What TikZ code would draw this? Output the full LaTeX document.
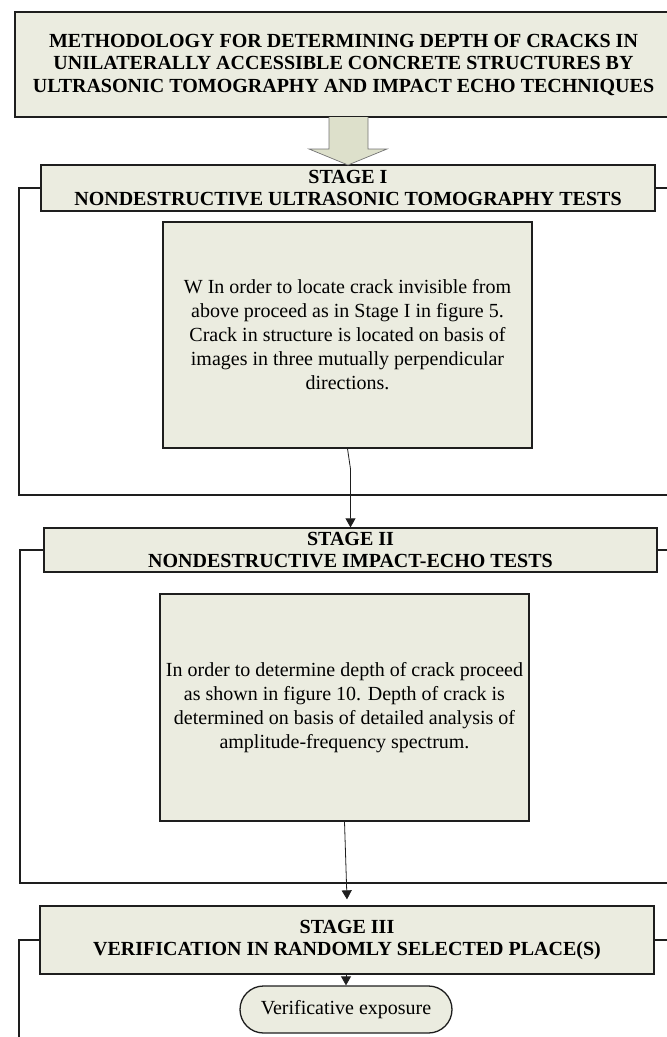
\documentclass[tikz,border=0pt]{standalone}
\usepackage{fontspec}
\setmainfont{Liberation Serif}
\usetikzlibrary{arrows.meta,shapes.misc}
\definecolor{boxfill}{RGB}{235,236,224}
\definecolor{arrowfill}{RGB}{221,224,203}
\definecolor{edge}{RGB}{30,30,30}
\tikzset{
  box/.style={draw=edge, line width=1.3pt, fill=boxfill, inner sep=0pt, align=center},
  titlebox/.style={box, font=\bfseries\fontsize{20}{22.5}\selectfont},
  hdr/.style={box, font=\bfseries\fontsize{20}{22}\selectfont},
  txt/.style={box, font=\fontsize{20}{24}\selectfont},
  pillbox/.style={box, rounded rectangle, font=\fontsize{20}{24}\selectfont},
  frame/.style={draw=edge, line width=1.2pt},
  conn/.style={draw=edge, line width=0.8pt, -{Triangle[width=10pt,length=9pt]}},
  blockarrow/.style={draw=black!55, line width=0.7pt, fill=arrowfill},
}
\begin{document}
\begin{tikzpicture}[x=1pt,y=-1pt]
\useasboundingbox (0,0) rectangle (667,1037);

% heading of the methodology
\node[titlebox, minimum width=657pt, minimum height=105pt] (title) at (343.5,64.5)
  {METHODOLOGY FOR DETERMINING DEPTH OF CRACKS IN\\
   UNILATERALLY ACCESSIBLE CONCRETE STRUCTURES BY\\
   ULTRASONIC TOMOGRAPHY AND IMPACT ECHO TECHNIQUES};

% stage headers
\node[hdr, minimum width=614pt, minimum height=46pt] (h1) at (348,188)
  {STAGE I\\NONDESTRUCTIVE ULTRASONIC TOMOGRAPHY TESTS};
\node[hdr, minimum width=613pt, minimum height=44pt] (h2) at (350.5,550)
  {STAGE II\\NONDESTRUCTIVE IMPACT-ECHO TESTS};
\node[hdr, minimum width=614pt, minimum height=68pt] (h3) at (347,940)
  {STAGE III\\VERIFICATION IN RANDOMLY SELECTED PLACE(S)};

% procedure boxes
\node[txt, minimum width=369pt, minimum height=226pt] (b1) at (347.5,335)
  {W In order to locate crack invisible from\\
   above proceed as in Stage I in figure 5.\\
   Crack in structure is located on basis of\\
   images in three mutually perpendicular\\
   directions.};
\node[txt, minimum width=369pt, minimum height=227pt] (b2) at (344.5,707.5)
  {In order to determine depth of crack proceed\\
   as shown in figure 10. Depth of crack is\\
   determined on basis of detailed analysis of\\
   amplitude-frequency spectrum.};

\node[pillbox, minimum width=212pt, minimum height=47pt] (pill) at (346,1009.5)
  {Verificative exposure};

% block arrow from the heading to stage I
\coordinate (a0) at (348,117);
\draw[blockarrow] (329,117) -- (329,149) -- (309,149) -- (348,165) -- (387,149)
  -- (368,149) -- (368,117);

% frames enclosing each stage
\coordinate (f1) at (19,495);
\coordinate (f2) at (20,883);
\coordinate (f3) at (19,1045);
\coordinate (rim) at (690,0);
\draw[frame] (h1.west) -| (f1) -- (f1 -| rim);
\draw[frame] (h1.east) -- (h1.east -| rim);
\draw[frame] (h2.west) -| (f2) -- (f2 -| rim);
\draw[frame] (h2.east) -- (h2.east -| rim);
\draw[frame] (h3.west) -| (f3);
\draw[frame] (h3.east) -- (h3.east -| rim);

% connectors between the stages
\coordinate (k1) at (350.5,469);
\draw[conn] (b1.south) -- (k1) -- (h2.north);
\draw[conn] (b2.south) -- ([yshift=6pt]h3.north);
\draw[conn] (pill.north |- h3.south) -- (pill.north);
\end{tikzpicture}
\end{document}
